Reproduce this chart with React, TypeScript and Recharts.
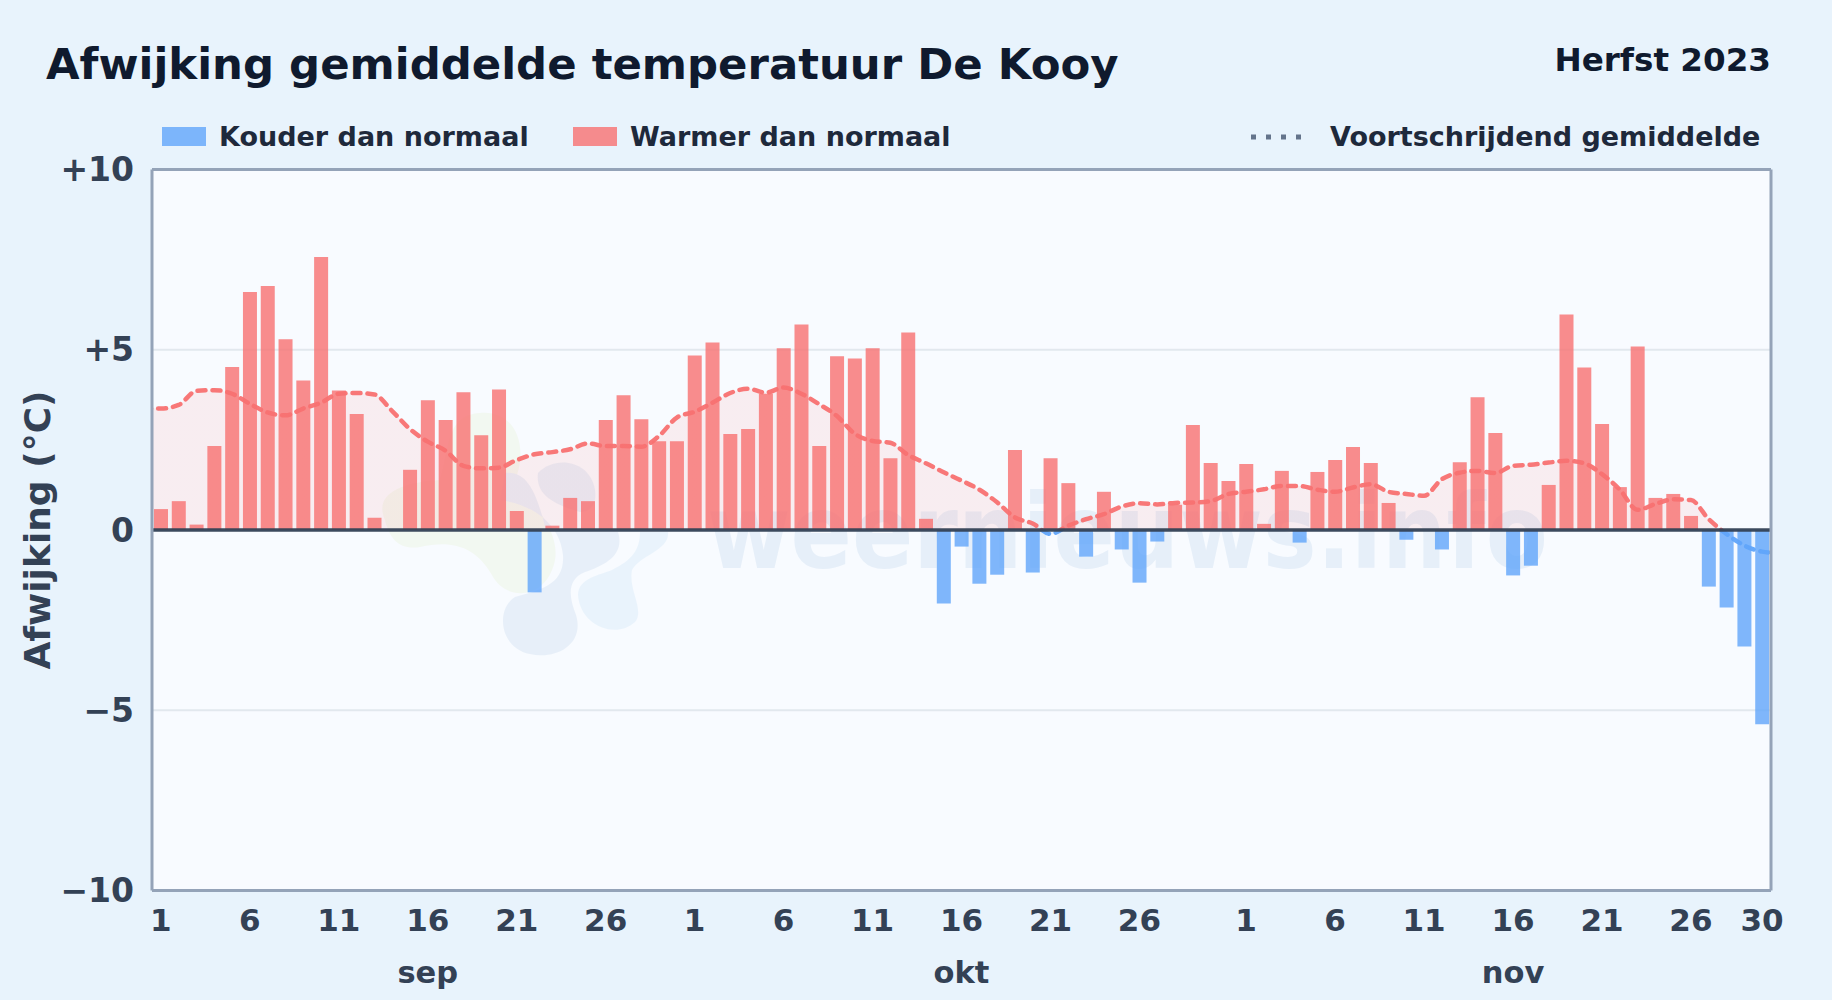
import {
  ComposedChart,
  Area,
  Bar,
  Cell,
  Line,
  XAxis,
  YAxis,
  ReferenceLine,
  CartesianGrid,
} from 'recharts'

const FONT = '"DejaVu Sans", sans-serif'
const RED = '#f87171'
const BLUE = '#60a5fa'

// afwijking per dag, sep 1 t/m nov 30
const sepDelta = [
  0.58, 0.8, 0.15, 2.33, 4.52, 6.6, 6.77, 5.29, 4.15, 7.57,
  3.87, 3.22, 0.34, 0, 1.67, 3.6, 3.05, 3.82, 2.63, 3.9,
  0.53, -1.73, 0.12, 0.89, 0.8, 3.05, 3.74, 3.07, 2.46, 2.46,
]
const oktDelta = [
  4.84, 5.2, 2.66, 2.8, 3.78, 5.04, 5.7, 2.33, 4.82, 4.76,
  5.04, 1.99, 5.48, 0.31, -2.04, -0.46, -1.49, -1.24, 2.22, -1.18,
  1.99, 1.3, -0.74, 1.06, -0.54, -1.46, -0.32, 0.7, 2.91, 1.86, 1.36,
]
const novDelta = [
  1.83, 0.17, 1.64, -0.35, 1.61, 1.94, 2.3, 1.86, 0.75, -0.27,
  0, -0.54, 1.88, 3.68, 2.69, -1.26, -0.99, 1.25, 5.98, 4.51,
  2.94, 1.19, 5.09, 0.89, 1.0, 0.39, -1.57, -2.15, -3.23, -5.39,
]

// voortschrijdend gemiddelde
const sepAvg = [
  3.37, 3.47, 3.86, 3.88, 3.78, 3.5, 3.26, 3.18, 3.37, 3.53,
  3.78, 3.8, 3.76, 3.3, 2.8, 2.45, 2.2, 1.78, 1.71, 1.73,
  1.94, 2.1, 2.16, 2.24, 2.4, 2.33, 2.33, 2.31, 2.61, 3.12,
]
const oktAvg = [
  3.28, 3.53, 3.8, 3.92, 3.81, 3.95, 3.78, 3.49, 3.16, 2.67,
  2.47, 2.42, 2.08, 1.85, 1.6, 1.37, 1.12, 0.77, 0.35, 0.18,
  -0.11, 0.12, 0.3, 0.44, 0.65, 0.74, 0.71, 0.75, 0.76, 0.8, 1.0,
]
const novAvg = [
  1.06, 1.13, 1.22, 1.22, 1.12, 1.06, 1.18, 1.27, 1.06, 1.0,
  0.95, 1.41, 1.59, 1.64, 1.58, 1.78, 1.81, 1.87, 1.92, 1.85,
  1.55, 1.12, 0.56, 0.72, 0.85, 0.83, 0.3, -0.11, -0.43, -0.6,
]
// randpunten buiten het plotvlak, zodat de lijn tot aan de rand doorloopt
const avgBeforeStart = 3.37
const avgAfterEnd = -0.64

const delta = [...sepDelta, ...oktDelta, ...novDelta]
const avg = [...sepAvg, ...oktAvg, ...novAvg]

const dayTicks = [1, 6, 11, 16, 21, 26, 31, 36, 41, 46, 51, 56, 62, 67, 72, 77, 82, 87, 91]
const dayLabels = ['1', '6', '11', '16', '21', '26', '1', '6', '11', '16', '21', '26', '1', '6', '11', '16', '21', '26', '30']
const monthTicks = [16, 46, 77]
const monthLabels = ['sep', 'okt', 'nov']
const yTicks = [-10, -5, 0, 5, 10]

const rows: { day: number; delta?: number; avg: number }[] = [
  { day: 0, avg: avgBeforeStart },
  ...delta.map((d, i) => ({ day: i + 1, delta: d, avg: avg[i] })),
  { day: 92, avg: avgAfterEnd },
]

const fmtY = (v: number) => (v > 0 ? `+${v}` : v < 0 ? `\u2212${-v}` : '0')

// daglabel plus maandnaam eronder
function DayTick({ x, y, payload }: any) {
  const idx = dayTicks.indexOf(payload.value)
  const m = monthTicks.indexOf(payload.value)
  return (
    <g fontFamily={FONT} fontWeight={700} fill="#334155">
      <text x={x} y={y + 32} fontSize={31} textAnchor="middle">{dayLabels[idx]}</text>
      {m >= 0 && <text x={x} y={y + 84} fontSize={30.5} textAnchor="middle">{monthLabels[m]}</text>}
    </g>
  )
}

function Legend() {
  const text = { position: 'absolute', top: 121, fontSize: 27, fontWeight: 700, color: '#1e293b', lineHeight: '32px', whiteSpace: 'nowrap' } as const
  return (
    <>
      <div style={{ position: 'absolute', left: 162, top: 127, width: 44, height: 19, background: BLUE, opacity: 0.8 }} />
      <div style={{ ...text, left: 219 }}>Kouder dan normaal</div>
      <div style={{ position: 'absolute', left: 573, top: 127, width: 44, height: 19, background: RED, opacity: 0.8 }} />
      <div style={{ ...text, left: 630 }}>Warmer dan normaal</div>
      <svg style={{ position: 'absolute', left: 1250, top: 127 }} width={60} height={20}>
        <line x1={1} x2={58} y1={10} y2={10} stroke="#64748b" strokeWidth={5} strokeDasharray="5 10" />
      </svg>
      <div style={{ ...text, left: 1330 }}>Voortschrijdend gemiddelde</div>
    </>
  )
}

// achtergrond van het plotvlak met watermerk
function Backdrop() {
  return (
    <svg style={{ position: 'absolute', left: 0, top: 0 }} width={1832} height={1000}>
      <rect x={152} y={169.5} width={1619} height={721} fill="#f8fbff" />
      <g opacity={0.5}>
        <path d="M385 520 C372 490 410 482 440 480 C450 450 445 415 480 413 C518 410 528 450 515 480 C540 510 565 540 552 570 C540 600 505 600 492 575 C475 545 450 540 420 547 C400 550 390 540 385 520 Z" fill="#eef6e4" />
        <path d="M505 473 C530 470 538 500 546 530 L618 532 C625 555 605 565 585 572 C565 580 570 600 576 615 C585 645 555 660 530 654 C500 648 495 610 515 597 C540 590 565 585 563 555 C560 525 535 505 500 500 Z" fill="#d8e5f4" />
        <path d="M538 473 C555 455 590 460 595 490 C597 505 590 512 580 512 C555 505 535 495 538 473 Z" fill="#d8e5f4" />
        <path d="M640 532 L668 532 C670 550 640 555 632 570 C628 590 645 610 635 622 C615 640 580 625 578 595 C578 578 600 575 612 570 C632 560 640 550 640 532 Z" fill="#dcedfb" />
      </g>
      <text x={707} y={568} fontFamily={FONT} fontWeight={700} fontSize={104} fill="#e6eff9" textLength={841} lengthAdjust="spacingAndGlyphs">
        weernieuws.info
      </text>
    </svg>
  )
}

export default function App() {
  return (
    <div style={{ position: 'absolute', left: 0, top: 0, width: 1832, height: 1000, background: '#e8f3fc', fontFamily: FONT, overflow: 'hidden' }}>
      <Backdrop />
      <div style={{ position: 'absolute', left: 46, top: 39, fontSize: 43.4, fontWeight: 700, color: '#0f1a2e', whiteSpace: 'nowrap' }}>
        Afwijking gemiddelde temperatuur De Kooy
      </div>
      <div style={{ position: 'absolute', right: 61, top: 41, fontSize: 32.6, fontWeight: 700, color: '#0f1a2e', whiteSpace: 'nowrap' }}>
        Herfst 2023
      </div>
      <Legend />
      <div style={{ position: 'absolute', left: 0, top: 0 }}>
        <ComposedChart
          width={1832}
          height={1000}
          data={rows}
          margin={{ top: 169.5, right: 61, bottom: 0, left: 0 }}
        >
          <defs>
            <linearGradient id="avgStroke" gradientUnits="userSpaceOnUse" x1="0" y1="169.5" x2="0" y2="890.5">
              <stop offset="50%" stopColor={RED} />
              <stop offset="50%" stopColor={BLUE} />
            </linearGradient>
            <linearGradient id="avgFill" gradientUnits="userSpaceOnUse" x1="0" y1="169.5" x2="0" y2="890.5">
              <stop offset="50%" stopColor={RED} stopOpacity={0.17} />
              <stop offset="50%" stopColor={BLUE} stopOpacity={0.17} />
            </linearGradient>
          </defs>
          <CartesianGrid horizontal vertical={false} stroke="#e2e8ee" strokeWidth={2} />
          <XAxis
            dataKey="day"
            type="number"
            domain={[0.5, 91.5]}
            allowDataOverflow
            ticks={dayTicks}
            interval={0}
            height={109.5}
            axisLine={false}
            tickLine={false}
            tick={<DayTick />}
          />
          <YAxis
            type="number"
            domain={[-10, 10]}
            ticks={yTicks}
            width={152}
            axisLine={false}
            tickLine={false}
            tickMargin={12}
            tickFormatter={fmtY}
            tick={{ fontSize: 33, fontWeight: 700, fill: '#334155', fontFamily: FONT }}
            label={{
              value: 'Afwijking (°C)',
              angle: -90,
              position: 'insideLeft',
              offset: 37,
              style: { fontSize: 36, fontWeight: 700, fill: '#334155', fontFamily: FONT, textAnchor: 'middle' },
            }}
          />
          <Area
            type="monotone"
            dataKey="avg"
            stroke="none"
            fill="url(#avgFill)"
            isAnimationActive={false}
            dot={false}
            activeDot={false}
          />
          <Bar dataKey="delta" barSize={14} isAnimationActive={false}>
            {rows.map((r) => (
              <Cell key={r.day} fill={(r.delta ?? 0) < 0 ? BLUE : RED} fillOpacity={0.8} />
            ))}
          </Bar>
          <Line
            type="monotone"
            dataKey="avg"
            stroke="url(#avgStroke)"
            strokeWidth={4.5}
            strokeDasharray="8 7"
            strokeLinecap="round"
            strokeOpacity={0.95}
            dot={false}
            activeDot={false}
            isAnimationActive={false}
          />
          <ReferenceLine y={0} stroke="#334155" strokeWidth={3.5} strokeOpacity={0.95} />
          <ReferenceLine y={10} stroke="#94a3b8" strokeWidth={3} />
          <ReferenceLine y={-10} stroke="#94a3b8" strokeWidth={3} />
          <ReferenceLine x={0.5} stroke="#94a3b8" strokeWidth={3} />
          <ReferenceLine x={91.5} stroke="#94a3b8" strokeWidth={3} />
        </ComposedChart>
      </div>
    </div>
  )
}
